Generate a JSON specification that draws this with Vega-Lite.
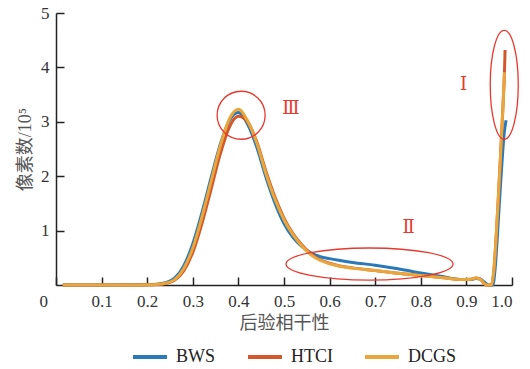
{
  "$schema": "https://vega.github.io/schema/vega-lite/v6.json",
  "width": 456,
  "height": 272,
  "autosize": "none",
  "padding": {"left": 56, "top": 13, "right": 18, "bottom": 84},
  "background": "white",
  "config": {
    "view": {"stroke": null},
    "axis": {
      "domainColor": "#222",
      "domainWidth": 1.5,
      "tickColor": "#222",
      "tickWidth": 1.5,
      "tickSize": -8,
      "grid": false,
      "labelFont": "Liberation Serif",
      "labelFontSize": 17,
      "labelColor": "#333",
      "titleFont": "Liberation Serif, Noto Sans CJK SC",
      "titleFontSize": 18,
      "titleFontWeight": "normal",
      "titleColor": "#555"
    }
  },
  "datasets": {
    "curves": [
      {"series": "BWS", "x": 0.015, "y": 0},
      {"series": "BWS", "x": 0.1, "y": 0},
      {"series": "BWS", "x": 0.18, "y": 0.003},
      {"series": "BWS", "x": 0.2, "y": 0.006},
      {"series": "BWS", "x": 0.22, "y": 0.014},
      {"series": "BWS", "x": 0.24, "y": 0.042},
      {"series": "BWS", "x": 0.26, "y": 0.125},
      {"series": "BWS", "x": 0.28, "y": 0.35},
      {"series": "BWS", "x": 0.3, "y": 0.76},
      {"series": "BWS", "x": 0.32, "y": 1.33},
      {"series": "BWS", "x": 0.34, "y": 1.97},
      {"series": "BWS", "x": 0.36, "y": 2.58},
      {"series": "BWS", "x": 0.38, "y": 3.02},
      {"series": "BWS", "x": 0.4, "y": 3.17},
      {"series": "BWS", "x": 0.42, "y": 2.96},
      {"series": "BWS", "x": 0.44, "y": 2.54},
      {"series": "BWS", "x": 0.46, "y": 1.99},
      {"series": "BWS", "x": 0.48, "y": 1.51},
      {"series": "BWS", "x": 0.5, "y": 1.13},
      {"series": "BWS", "x": 0.52, "y": 0.87},
      {"series": "BWS", "x": 0.54, "y": 0.7},
      {"series": "BWS", "x": 0.56, "y": 0.585},
      {"series": "BWS", "x": 0.58, "y": 0.52},
      {"series": "BWS", "x": 0.6, "y": 0.485},
      {"series": "BWS", "x": 0.62, "y": 0.455},
      {"series": "BWS", "x": 0.65, "y": 0.415},
      {"series": "BWS", "x": 0.7, "y": 0.365},
      {"series": "BWS", "x": 0.75, "y": 0.3},
      {"series": "BWS", "x": 0.8, "y": 0.22},
      {"series": "BWS", "x": 0.85, "y": 0.15},
      {"series": "BWS", "x": 0.89, "y": 0.1},
      {"series": "BWS", "x": 0.91, "y": 0.1},
      {"series": "BWS", "x": 0.92, "y": 0.12},
      {"series": "BWS", "x": 0.93, "y": 0.11},
      {"series": "BWS", "x": 0.94, "y": 0.05},
      {"series": "BWS", "x": 0.948, "y": 0},
      {"series": "BWS", "x": 0.958, "y": 0},
      {"series": "BWS", "x": 0.963, "y": 0.3},
      {"series": "BWS", "x": 0.968, "y": 0.9},
      {"series": "BWS", "x": 0.973, "y": 1.6},
      {"series": "BWS", "x": 0.978, "y": 2.25},
      {"series": "BWS", "x": 0.983, "y": 2.8},
      {"series": "BWS", "x": 0.987, "y": 3.03},

      {"series": "HTCI", "x": 0.015, "y": 0},
      {"series": "HTCI", "x": 0.1, "y": 0},
      {"series": "HTCI", "x": 0.18, "y": 0.002},
      {"series": "HTCI", "x": 0.2, "y": 0.004},
      {"series": "HTCI", "x": 0.22, "y": 0.009},
      {"series": "HTCI", "x": 0.24, "y": 0.027},
      {"series": "HTCI", "x": 0.26, "y": 0.085},
      {"series": "HTCI", "x": 0.28, "y": 0.26},
      {"series": "HTCI", "x": 0.3, "y": 0.6},
      {"series": "HTCI", "x": 0.32, "y": 1.13},
      {"series": "HTCI", "x": 0.34, "y": 1.76},
      {"series": "HTCI", "x": 0.36, "y": 2.4},
      {"series": "HTCI", "x": 0.38, "y": 2.9},
      {"series": "HTCI", "x": 0.4, "y": 3.1},
      {"series": "HTCI", "x": 0.42, "y": 3.0},
      {"series": "HTCI", "x": 0.44, "y": 2.64},
      {"series": "HTCI", "x": 0.46, "y": 2.1},
      {"series": "HTCI", "x": 0.48, "y": 1.62},
      {"series": "HTCI", "x": 0.5, "y": 1.23},
      {"series": "HTCI", "x": 0.52, "y": 0.94},
      {"series": "HTCI", "x": 0.54, "y": 0.73},
      {"series": "HTCI", "x": 0.56, "y": 0.565},
      {"series": "HTCI", "x": 0.58, "y": 0.46},
      {"series": "HTCI", "x": 0.6, "y": 0.4},
      {"series": "HTCI", "x": 0.62, "y": 0.355},
      {"series": "HTCI", "x": 0.65, "y": 0.315},
      {"series": "HTCI", "x": 0.7, "y": 0.265},
      {"series": "HTCI", "x": 0.75, "y": 0.215},
      {"series": "HTCI", "x": 0.8, "y": 0.175},
      {"series": "HTCI", "x": 0.85, "y": 0.135},
      {"series": "HTCI", "x": 0.89, "y": 0.1},
      {"series": "HTCI", "x": 0.91, "y": 0.105},
      {"series": "HTCI", "x": 0.92, "y": 0.13},
      {"series": "HTCI", "x": 0.93, "y": 0.11},
      {"series": "HTCI", "x": 0.94, "y": 0.02},
      {"series": "HTCI", "x": 0.945, "y": 0},
      {"series": "HTCI", "x": 0.955, "y": 0},
      {"series": "HTCI", "x": 0.96, "y": 0.25},
      {"series": "HTCI", "x": 0.965, "y": 0.85},
      {"series": "HTCI", "x": 0.97, "y": 1.6},
      {"series": "HTCI", "x": 0.975, "y": 2.4},
      {"series": "HTCI", "x": 0.98, "y": 3.25},
      {"series": "HTCI", "x": 0.9835, "y": 3.91},
      {"series": "HTCI", "x": 0.9848, "y": 4.32},

      {"series": "DCGS", "x": 0.015, "y": 0},
      {"series": "DCGS", "x": 0.1, "y": 0},
      {"series": "DCGS", "x": 0.18, "y": 0.002},
      {"series": "DCGS", "x": 0.2, "y": 0.005},
      {"series": "DCGS", "x": 0.22, "y": 0.011},
      {"series": "DCGS", "x": 0.24, "y": 0.033},
      {"series": "DCGS", "x": 0.26, "y": 0.1},
      {"series": "DCGS", "x": 0.28, "y": 0.3},
      {"series": "DCGS", "x": 0.3, "y": 0.68},
      {"series": "DCGS", "x": 0.32, "y": 1.25},
      {"series": "DCGS", "x": 0.34, "y": 1.9},
      {"series": "DCGS", "x": 0.36, "y": 2.55},
      {"series": "DCGS", "x": 0.38, "y": 3.05},
      {"series": "DCGS", "x": 0.4, "y": 3.23},
      {"series": "DCGS", "x": 0.42, "y": 3.02},
      {"series": "DCGS", "x": 0.44, "y": 2.62},
      {"series": "DCGS", "x": 0.46, "y": 2.06},
      {"series": "DCGS", "x": 0.48, "y": 1.58},
      {"series": "DCGS", "x": 0.5, "y": 1.2},
      {"series": "DCGS", "x": 0.52, "y": 0.92},
      {"series": "DCGS", "x": 0.54, "y": 0.71},
      {"series": "DCGS", "x": 0.56, "y": 0.55},
      {"series": "DCGS", "x": 0.58, "y": 0.45},
      {"series": "DCGS", "x": 0.6, "y": 0.39},
      {"series": "DCGS", "x": 0.62, "y": 0.35},
      {"series": "DCGS", "x": 0.65, "y": 0.31},
      {"series": "DCGS", "x": 0.7, "y": 0.265},
      {"series": "DCGS", "x": 0.75, "y": 0.215},
      {"series": "DCGS", "x": 0.8, "y": 0.175},
      {"series": "DCGS", "x": 0.85, "y": 0.135},
      {"series": "DCGS", "x": 0.89, "y": 0.1},
      {"series": "DCGS", "x": 0.91, "y": 0.105},
      {"series": "DCGS", "x": 0.92, "y": 0.13},
      {"series": "DCGS", "x": 0.93, "y": 0.11},
      {"series": "DCGS", "x": 0.94, "y": 0.02},
      {"series": "DCGS", "x": 0.945, "y": 0},
      {"series": "DCGS", "x": 0.955, "y": 0},
      {"series": "DCGS", "x": 0.96, "y": 0.25},
      {"series": "DCGS", "x": 0.965, "y": 0.85},
      {"series": "DCGS", "x": 0.97, "y": 1.6},
      {"series": "DCGS", "x": 0.975, "y": 2.4},
      {"series": "DCGS", "x": 0.98, "y": 3.25},
      {"series": "DCGS", "x": 0.9835, "y": 3.91}
    ],
    "regionLabels": [
      {"x": 0.515, "y": 3.23, "label": "Ⅲ"},
      {"x": 0.773, "y": 1.04, "label": "Ⅱ"},
      {"x": 0.894, "y": 3.67, "label": "Ⅰ"}
    ]
  },
  "encoding": {
    "x": {
      "field": "x",
      "type": "quantitative",
      "scale": {"domain": [0, 1], "nice": false, "zero": false},
      "axis": {
        "title": "后验相干性",
        "values": [0, 0.1, 0.2, 0.3, 0.4, 0.5, 0.6, 0.7, 0.8, 0.9, 1.0],
        "labelExpr": "datum.value == 0 ? '0' : format(datum.value, '.1f')",
        "labelPadding": 16,
        "labelOffset": {"condition": {"test": "datum.value == 0", "value": -17}, "value": 0},
        "titlePadding": 5
      }
    },
    "y": {
      "field": "y",
      "type": "quantitative",
      "scale": {"domain": [0, 5], "nice": false},
      "axis": {
        "title": "像素数/10⁵",
        "values": [1, 2, 3, 4, 5],
        "labelPadding": 15,
        "titlePadding": 6
      }
    }
  },
  "layer": [
    {
      "data": {"name": "curves"},
      "mark": {"type": "line", "interpolate": "monotone", "strokeWidth": 3},
      "encoding": {
        "color": {
          "field": "series",
          "type": "nominal",
          "scale": {"domain": ["BWS", "HTCI", "DCGS"], "range": ["#2a7ab9", "#d4562b", "#e9a73b"]},
          "legend": {
            "orient": "none",
            "legendX": 75,
            "legendY": 325,
            "direction": "horizontal",
            "title": null,
            "symbolType": "stroke",
            "symbolSize": 1156,
            "symbolStrokeWidth": 4,
            "labelFont": "Liberation Serif",
            "labelFontSize": 18,
            "labelColor": "#222",
            "labelOffset": 7,
            "columnPadding": 24,
            "padding": 0
          }
        }
      }
    },
    {
      "data": {"values": [{"x": 0.406, "y": 3.12}]},
      "mark": {"type": "point", "shape": "circle", "size": 2304, "filled": false, "color": "#e8392f", "strokeWidth": 1.3, "opacity": 1}
    },
    {
      "data": {"values": [{"x": 0.6875, "y": 0.385}]},
      "mark": {"type": "point", "shape": "M -1 0 A 1 0.192 0 1 0 1 0 A 1 0.192 0 1 0 -1 0 Z", "size": 27889, "filled": false, "color": "#e8392f", "strokeWidth": 1.3, "opacity": 1}
    },
    {
      "data": {"values": [{"x": 0.983, "y": 3.68}]},
      "mark": {"type": "point", "shape": "M 0 -1 A 0.257 1 0 1 0 0 1 A 0.257 1 0 1 0 0 -1 Z", "size": 11881, "filled": false, "color": "#e8392f", "strokeWidth": 1.3, "opacity": 1}
    },
    {
      "data": {"name": "regionLabels"},
      "mark": {"type": "text", "font": "Liberation Serif, DejaVu Serif", "fontSize": 18, "color": "#e8392f", "baseline": "middle", "align": "center"},
      "encoding": {"text": {"field": "label", "type": "nominal"}}
    }
  ]
}
